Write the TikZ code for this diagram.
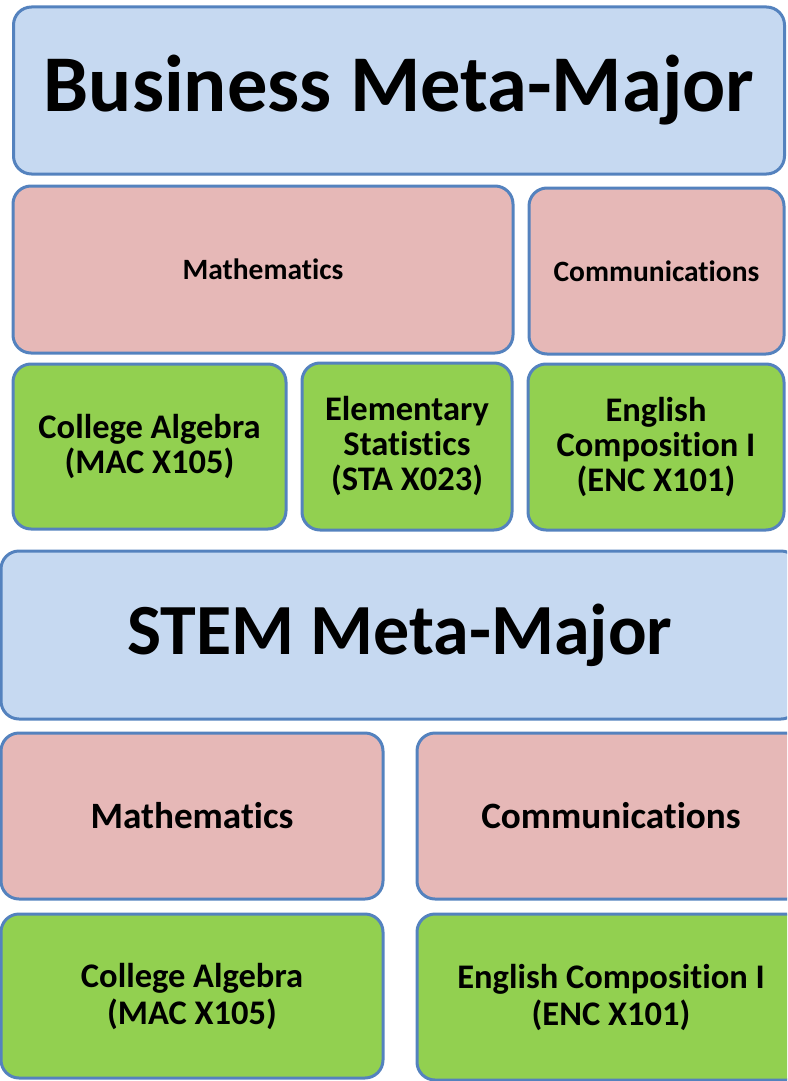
\documentclass[tikz,border=0pt]{standalone}
\usepackage{fontspec}
\setmainfont{Carlito}[Ligatures=NoCommon]
\usepackage{tikz}
\usetikzlibrary{positioning}
\definecolor{edgeblue}{RGB}{84,130,190}
\definecolor{metafill}{RGB}{198,217,241}
\definecolor{catfill}{RGB}{230,184,183}
\definecolor{coursefill}{RGB}{146,208,80}
\tikzset{
  boxbase/.style={rectangle,rounded corners=18pt,draw=edgeblue,line width=3pt,align=center,inner sep=0pt},
  metabox/.style={boxbase,fill=metafill},
  catbox/.style={boxbase,fill=catfill},
  coursebox/.style={boxbase,fill=coursefill,font=\bfseries\fontsize{34.5}{35}\selectfont},
}

\begin{document}
\begin{tikzpicture}[x=1pt,y=-1pt]
\useasboundingbox (0,0) rectangle (787,1081);
\clip (0,0) rectangle (787,1081);
% business
\node at (399,90.5)[metabox,minimum width=771pt,minimum height=167pt,font=\bfseries\fontsize{80.5}{82}\selectfont](biz){Business Meta-Major};
\node at (263,269.5)[catbox,minimum width=500pt,minimum height=167pt,font=\bfseries\fontsize{29.5}{30}\selectfont](bizmath){Mathematics};
\node at (656.5,271)[catbox,minimum width=255pt,minimum height=166pt,font=\bfseries\fontsize{29.5}{30}\selectfont](bizcomm){Communications};
\node at (149.5,446.5)[coursebox,minimum width=273pt,minimum height=165pt](bizalg){College Algebra\\(MAC X105)};
\node at (407,446.5)[coursebox,minimum width=210pt,minimum height=167pt](bizstat){Elementary\\Statistics\\(STA X023)};
\node at (656,447)[coursebox,minimum width=256pt,minimum height=166pt](bizeng){English\\Composition I\\(ENC X101)};
% stem
\node at (400,635)[metabox,minimum width=798pt,minimum height=168pt,font=\bfseries\fontsize{72}{74}\selectfont](stem){STEM Meta-Major};
\node at (192,816)[catbox,minimum width=382pt,minimum height=166pt,font=\bfseries\fontsize{37.2}{38}\selectfont](stemmath){Mathematics};
\node at (611,816)[catbox,minimum width=388pt,minimum height=166pt,font=\bfseries\fontsize{37.2}{38}\selectfont](stemcomm){Communications};
\node at (192,996)[coursebox,minimum width=382pt,minimum height=164pt,font=\bfseries\fontsize{34.5}{37}\selectfont](stemalg){College Algebra\\(MAC X105)};
\node at (611,997)[coursebox,minimum width=388pt,minimum height=166pt,font=\bfseries\fontsize{34.5}{37}\selectfont](stemeng){English Composition I\\(ENC X101)};
\end{tikzpicture}
\end{document}
